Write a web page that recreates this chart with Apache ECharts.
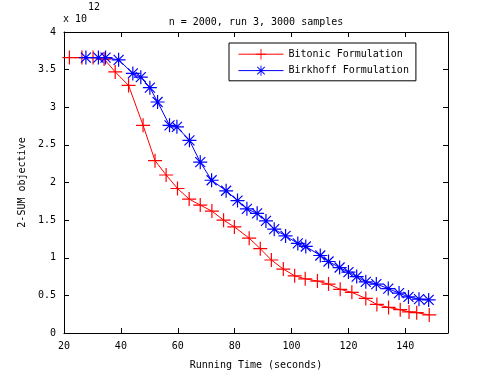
<!DOCTYPE html>
<html>
<head>
<meta charset="utf-8">
<script src="https://cdn.jsdelivr.net/npm/echarts@6/dist/echarts.min.js"></script>
<style>
  html, body { margin: 0; padding: 0; background: #fff; }
  #chart { width: 495px; height: 375px; }
</style>
</head>
<body>
<div id="chart"></div>
<script>
// 數據 (objective 單位: x 10^12)
const bitonicTime = [21.9, 26.3, 30.2, 34.1, 38.0, 42.7, 47.8, 52.0, 55.9, 59.9, 64.0, 67.9, 72.0, 76.1, 79.9, 85.1,
  89.0, 92.9, 97.1, 101.1, 104.8, 109.1, 113.0, 117.1, 121.2, 126.1, 130.0, 134.1, 138.2, 141.3, 144.0, 148.4];
const bitonicObj = [3.66, 3.66, 3.66, 3.64, 3.47, 3.29, 2.76, 2.29, 2.10, 1.92, 1.78, 1.70, 1.62, 1.50, 1.41, 1.26,
  1.12, 0.97, 0.85, 0.76, 0.72, 0.69, 0.65, 0.58, 0.54, 0.46, 0.38, 0.34, 0.31, 0.28, 0.27, 0.24];
const birkhoffTime = [27.7, 32.1, 34.6, 39.2, 44.2, 47.0, 50.2, 52.9, 57.1, 59.7, 64.1, 67.9, 71.9, 77.0, 81.0, 84.3,
  87.9, 91.0, 93.9, 97.9, 102.2, 105.0, 110.1, 113.0, 116.9, 120.0, 122.9, 126.1, 129.8, 134.0, 137.8, 141.1, 144.8, 148.2];
const birkhoffObj = [3.66, 3.66, 3.66, 3.63, 3.45, 3.40, 3.26, 3.07, 2.76, 2.74, 2.56, 2.27, 2.03, 1.89, 1.76, 1.65,
  1.59, 1.49, 1.38, 1.29, 1.19, 1.15, 1.03, 0.95, 0.87, 0.81, 0.75, 0.68, 0.65, 0.59, 0.53, 0.48, 0.45, 0.44];
const seriesNames = ['Bitonic Formulation', 'Birkhoff Formulation'];

const font = 'DejaVu Sans Mono';

// 標記: + 和 * (細線)
const plusPath = 'path://M6.4,0H7.6V14H6.4Z M0,6.4H14V7.6H0Z';
const starPath = 'path://M6.4,0H7.6V14H6.4Z M0,6.4H14V7.6H0Z ' +
  'M2.42,1.58L12.42,11.58L11.58,12.42L1.58,2.42Z M11.58,1.58L12.42,2.42L2.42,12.42L1.58,11.58Z';

const zip = (xs, ys) => xs.map((x, i) => [x, ys[i]]);

// 坐標軸 (上下左右都有框線, 刻度朝內)
const baseAxis = {
  axisLine: { show: true, onZero: false, lineStyle: { color: '#000', width: 1 } },
  axisTick: { show: true, inside: true, length: 5, lineStyle: { color: '#000' } },
  splitLine: { show: false }
};

const chart = echarts.init(document.getElementById('chart'));
const option = {
  animation: false,
  backgroundColor: '#fff',
  textStyle: { fontFamily: font },
  title: {
    text: 'n = 2000, run 3, 3000 samples',
    left: 251,
    textAlign: 'center',
    top: 12,
    textStyle: { fontFamily: font, fontSize: 10, fontWeight: 'normal', color: '#000' }
  },
  grid: { left: 64, right: 47, top: 32, bottom: 41 },
  legend: {
    left: 229,
    top: 43,
    orient: 'vertical',
    data: seriesNames,
    itemWidth: 45,
    itemHeight: 13,
    itemGap: 6,
    padding: [6, 7, 5, 9],
    borderColor: '#000',
    borderWidth: 1,
    backgroundColor: '#fff',
    lineStyle: { width: 1 },
    textStyle: { fontFamily: font, fontSize: 10, color: '#000' }
  },
  xAxis: [
    Object.assign({}, baseAxis, {
      type: 'value', min: 20, max: 155, interval: 20,
      name: 'Running Time (seconds)', nameLocation: 'middle', nameGap: 27,
      nameTextStyle: { fontFamily: font, fontSize: 10, color: '#000' },
      axisLabel: { color: '#000', fontFamily: font, fontSize: 10, margin: 8, showMaxLabel: false }
    }),
    Object.assign({}, baseAxis, {
      type: 'value', min: 20, max: 155, interval: 20, position: 'top',
      axisLabel: { show: false }
    })
  ],
  yAxis: [
    Object.assign({}, baseAxis, {
      type: 'value', min: 0, max: 4, interval: 0.5,
      name: '2-SUM objective', nameLocation: 'middle', nameGap: 26,
      nameTextStyle: { fontFamily: font, fontSize: 10, color: '#000' },
      axisLabel: { color: '#000', fontFamily: font, fontSize: 10, margin: 8 }
    }),
    Object.assign({}, baseAxis, {
      type: 'value', min: 0, max: 4, interval: 0.5, position: 'right',
      axisLabel: { show: false }
    })
  ],
  // 指數標記 x 10^12
  graphic: [
    { type: 'text', left: 63, top: 14, style: { text: 'x 10', font: '10px "DejaVu Sans Mono"', fill: '#000' } },
    { type: 'text', left: 88, top: 2, style: { text: '12', font: '10px "DejaVu Sans Mono"', fill: '#000' } }
  ],
  series: [
    {
      name: seriesNames[0],
      type: 'line',
      data: zip(bitonicTime, bitonicObj),
      symbol: plusPath,
      symbolSize: 14,
      lineStyle: { color: '#ff0000', width: 1 },
      itemStyle: { color: '#ff0000' }
    },
    {
      name: seriesNames[1],
      type: 'line',
      data: zip(birkhoffTime, birkhoffObj),
      symbol: starPath,
      symbolSize: 14,
      lineStyle: { color: '#0000ff', width: 1 },
      itemStyle: { color: '#0000ff' }
    }
  ]
};
chart.setOption(option);
</script>
</body>
</html>
